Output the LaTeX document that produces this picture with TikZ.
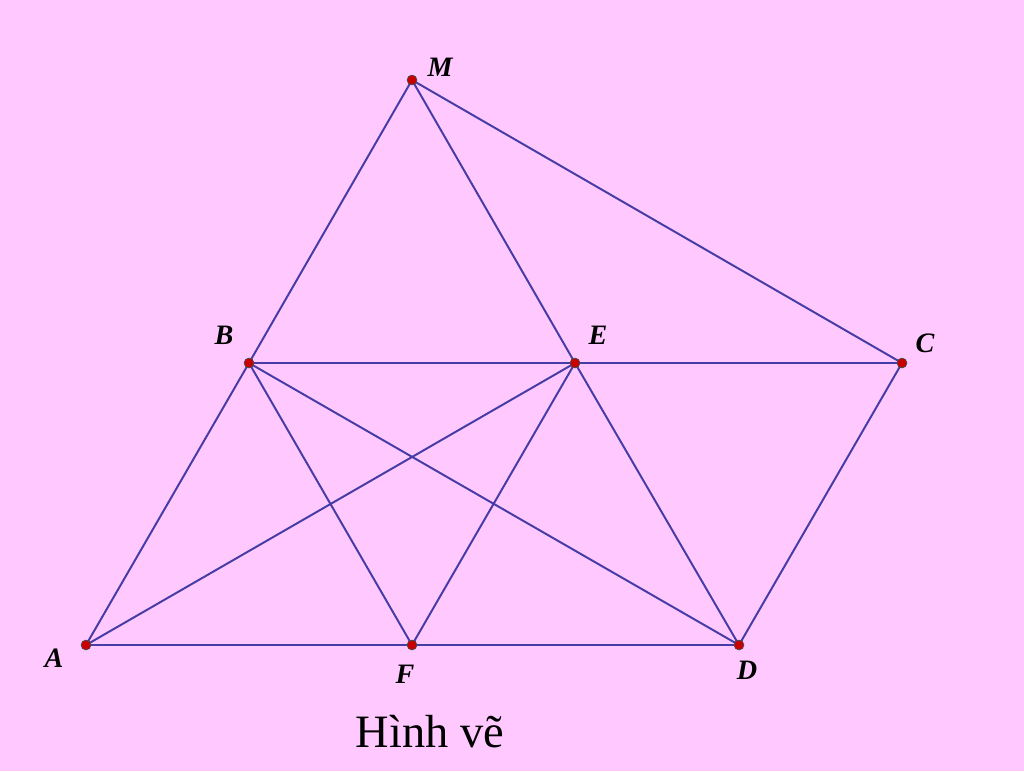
\documentclass[tikz,border=0pt]{standalone}
\usepackage{fontspec}
\setmainfont{Liberation Serif}
\usepackage{xcolor}
\usetikzlibrary{arrows,shapes,calc,positioning}
\definecolor{bgpink}{RGB}{255,200,255}
\definecolor{linecol}{RGB}{70,60,165}
\definecolor{ptred}{RGB}{200,0,0}
\begin{document}
\begin{tikzpicture}[x=0.025cm,y=-0.025cm]
			\tikzstyle{every node}=[font=\fontsize{20}{24}\selectfont\bfseries\itshape]
			\tikzstyle{seg}=[line width=1.4pt, color=linecol]
			\tikzstyle{pt}=[circle, fill=ptred, draw=black!70, line width=0.5pt, inner sep=0pt, minimum size=7pt]
			\fill [bgpink] (0,0) rectangle (1024,771);
			\coordinate (A) at (86,645);
			\coordinate (F) at (412,645);
			\coordinate (D) at (739,645);
			\coordinate (B) at (249,363);
			\coordinate (E) at (575,363);
			\coordinate (C) at (902,363);
			\coordinate (M) at (412,80);
			\draw [seg] (M) -- (B) (M) -- (E) (M) -- (C);
			\draw [seg] (B) -- (C) (A) -- (D);
			\draw [seg] (A) -- (B) (A) -- (E);
			\draw [seg] (B) -- (F) (B) -- (D);
			\draw [seg] (E) -- (F) (E) -- (D) (C) -- (D);
			\foreach \p in {A,F,D,B,E,C,M}
				\node [pt] at (\p) {};
			\node at (440,67) {M};
			\node at (224,335) {B};
			\node at (598,335) {E};
			\node at (925,343) {C};
			\node at (54,658) {A};
			\node at (405,674) {F};
			\node at (747,670) {D};
			\node [font=\fontsize{33}{40}\selectfont] at (430,732) {Hình vẽ};
		\end{tikzpicture}
\end{document}
